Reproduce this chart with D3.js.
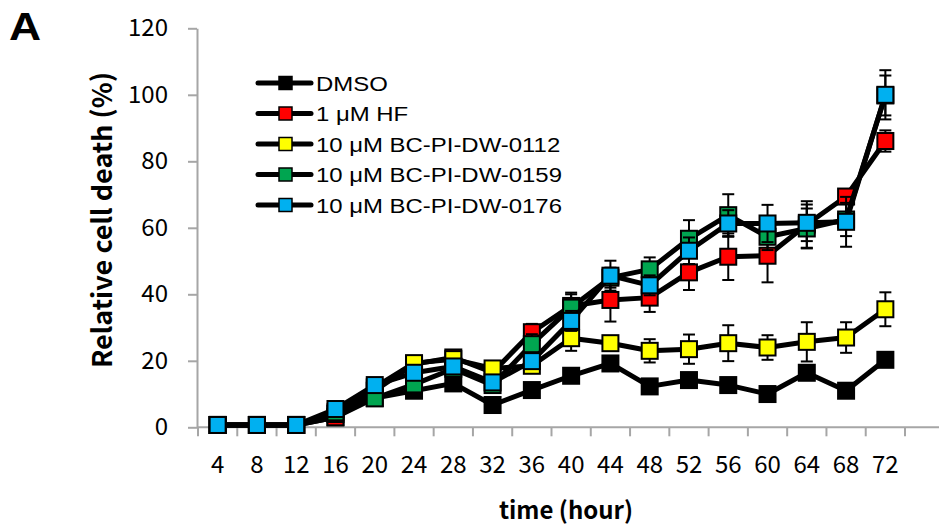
<!DOCTYPE html>
<html>
<head>
<meta charset="utf-8">
<script src="https://cdn.jsdelivr.net/npm/d3@7/dist/d3.min.js"></script>
<style>
  body { margin: 0; background: #fff; }
  svg { display: block; }
</style>
</head>
<body>
<div id="chart"></div>
<script>
const hours = [4, 8, 12, 16, 20, 24, 28, 32, 36, 40, 44, 48, 52, 56, 60, 64, 68, 72];
const yTicks = [0, 20, 40, 60, 80, 100, 120];
const seriesNames = ["DMSO", "1 μM HF", "10 μM BC-PI-DW-0112", "10 μM BC-PI-DW-0159", "10 μM BC-PI-DW-0176"];
const seriesColors = ["#000000", "#ff0000", "#ffff00", "#00a550", "#00b0f0"];

const dmso   = [0.7, 0.7, 0.7, 3, 8.8, 11, 13.2, 6.7, 11.2, 15.5, 19.2, 12.3, 14.2, 12.7, 10, 16.4, 11, 20.3];
const hf     = [0.7, 0.7, 0.7, 3, 11, 19, 21, 16.5, 28.6, 36.5, 38.3, 39, 46.6, 51.3, 51.6, 61, 69.4, 86.1];
const bc0112 = [0.7, 0.7, 0.7, 4, 12, 19.3, 20.5, 17.7, 18.5, 26.8, 25.3, 23, 23.5, 25.3, 24, 25.7, 27, 35.5];
const bc0159 = [0.7, 0.7, 0.7, 4.5, 8.7, 12.9, 17.6, 12.7, 25, 36, 45, 47.5, 56.7, 63.8, 57.3, 59.8, 62.5, 99.8];
const bc0176 = [0.7, 0.7, 0.7, 5.5, 12.7, 16.4, 18.3, 13.5, 19.9, 32, 45.6, 42.7, 53.1, 61.3, 61.3, 61.5, 61.8, 100];

const dmsoErr   = [0, 0, 0, 0.5, 1, 1, 1, 1, 1, 1, 1, 1, 1, 1, 1, 1, 1, 1];
const hfErr     = [0, 0, 0, 1, 1.5, 2, 2, 2, 2.5, 3.5, 6.5, 4.3, 5.3, 7, 8, 7, 2, 3.2];
const bc0112Err = [0, 0, 0, 1, 1.5, 2, 2, 2, 2, 3.8, 2, 3.5, 4.4, 5.4, 3.7, 5.9, 4.6, 5.1];
const bc0159Err = [0, 0, 0, 1, 1, 2, 2, 2, 3, 4.5, 3, 3.6, 5.6, 6.3, 4, 6, 5, 6];
const bc0176Err = [0, 0, 0, 1, 1.5, 2, 2, 2, 2, 3, 4.5, 3, 4, 4, 5.6, 5.5, 7.5, 7.4];

const seriesValues = [dmso, hf, bc0112, bc0159, bc0176];
const seriesErrors = [dmsoErr, hfErr, bc0112Err, bc0159Err, bc0176Err];

const width = 939, height = 527;
const axisGray = "#a6a6a6";

const svg = d3.select("#chart").append("svg")
    .attr("width", width)
    .attr("height", height);

const x = d3.scaleBand()
    .domain(hours)
    .range([198, 905])
    .padding(0);
const cx = h => x(h) + x.bandwidth() / 2;

const y = d3.scaleLinear()
    .domain([0, 120])
    .range([427.3, 28.3]);

// y axis
const yAxis = svg.append("g")
    .attr("transform", "translate(197,0)")
    .call(d3.axisLeft(y).tickValues(yTicks).tickSize(9).tickPadding(20).tickSizeOuter(0));
yAxis.select(".domain").attr("stroke", axisGray).attr("stroke-width", 2);
yAxis.selectAll(".tick line").attr("stroke", axisGray).attr("stroke-width", 2);
yAxis.selectAll(".tick text")
    .attr("fill", "#000")
    .style("font-family", "'Noto Sans CJK KR', sans-serif")
    .style("font-size", "24px");

// x axis
const xAxis = svg.append("g")
    .attr("transform", `translate(0,${y(0)})`)
    .call(d3.axisBottom(x).tickSize(0).tickPadding(29));
xAxis.select(".domain").remove();
xAxis.selectAll(".tick text")
    .attr("fill", "#000")
    .style("font-family", "'Noto Sans CJK KR', sans-serif")
    .style("font-size", "24px");
xAxis.append("line")
    .attr("x1", 197).attr("x2", width)
    .attr("stroke", axisGray).attr("stroke-width", 2);
xAxis.selectAll(".band-tick")
    .data(hours.map(h => x(h)).concat([x.range()[1]]))
    .join("line")
    .attr("class", "band-tick")
    .attr("x1", d => d).attr("x2", d => d)
    .attr("y1", 0).attr("y2", 9)
    .attr("stroke", axisGray).attr("stroke-width", 2);

// series
const line = d3.line()
    .x((d, i) => cx(hours[i]))
    .y(d => y(d));

const ms = 16;
seriesValues.forEach((vals, s) => {
    const g = svg.append("g");
    const errs = seriesErrors[s];
    const pts = vals.map((v, i) => ({ h: hours[i], v: v, e: errs[i] }));
    const eb = g.selectAll(".err")
        .data(pts.filter(d => d.e > 0))
        .join("g");
    eb.append("line")
        .attr("x1", d => cx(d.h)).attr("x2", d => cx(d.h))
        .attr("y1", d => y(d.v - d.e)).attr("y2", d => y(d.v + d.e))
        .attr("stroke", "#000").attr("stroke-width", 2);
    [1, -1].forEach(sign => {
        eb.append("line")
            .attr("x1", d => cx(d.h) - 6).attr("x2", d => cx(d.h) + 6)
            .attr("y1", d => y(d.v + sign * d.e)).attr("y2", d => y(d.v + sign * d.e))
            .attr("stroke", "#000").attr("stroke-width", 2);
    });
    g.append("path")
        .datum(vals)
        .attr("fill", "none")
        .attr("stroke", "#000")
        .attr("stroke-width", 5)
        .attr("stroke-linejoin", "round")
        .attr("d", line);
    g.selectAll("rect")
        .data(pts)
        .join("rect")
        .attr("x", d => cx(d.h) - ms / 2)
        .attr("y", d => y(d.v) - ms / 2)
        .attr("width", ms).attr("height", ms)
        .attr("fill", seriesColors[s])
        .attr("stroke", "#000")
        .attr("stroke-width", 2);
});

// legend (text slightly stretched horizontally like the source image)
const legend = svg.append("g");
seriesNames.forEach((name, i) => {
    const ly = 83 + i * 30.5;
    const row = legend.append("g").attr("transform", `translate(0,${ly})`);
    row.append("line")
        .attr("x1", 258).attr("x2", 311)
        .attr("stroke", "#000").attr("stroke-width", 5)
        .attr("stroke-linecap", "round");
    row.append("rect")
        .attr("x", 279).attr("y", -6.5)
        .attr("width", 13).attr("height", 13)
        .attr("fill", seriesColors[i])
        .attr("stroke", "#000").attr("stroke-width", 1.5);
    row.append("text")
        .attr("transform", "translate(316,7.5) scale(1.14,1)")
        .style("font-family", "'Liberation Sans', Arial, sans-serif")
        .style("font-size", "21px")
        .text(name);
});

// axis titles
svg.append("text")
    .attr("transform", "translate(112,220) rotate(-90)")
    .attr("text-anchor", "middle")
    .style("font-family", "'Noto Sans CJK KR', sans-serif")
    .style("font-weight", "bold")
    .style("font-size", "27px")
    .text("Relative cell death (%)");

svg.append("text")
    .attr("x", 566).attr("y", 519)
    .attr("text-anchor", "middle")
    .style("font-family", "'Noto Sans CJK KR', sans-serif")
    .style("font-weight", "bold")
    .style("font-size", "24px")
    .text("time (hour)");

svg.append("text")
    .attr("transform", "translate(9,40) scale(1.14,1)")
    .style("font-family", "'Liberation Sans', Arial, sans-serif")
    .style("font-weight", "bold")
    .style("font-size", "39px")
    .text("A");
</script>
</body>
</html>
